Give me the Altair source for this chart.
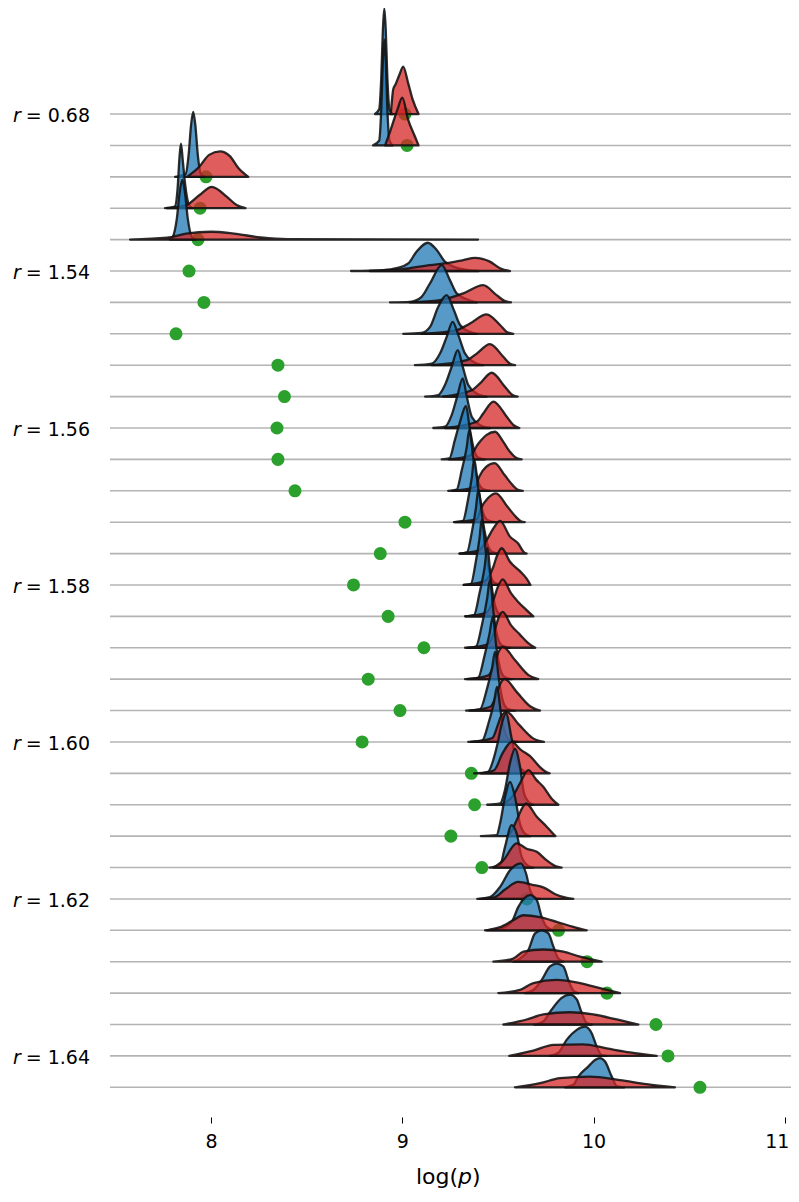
import altair as alt
import pandas as pd

# ---------------- data ----------------
n_rows = 32
label_rows = [0, 5, 10, 15, 20, 25, 30]
label_text = ["0.68", "1.54", "1.56", "1.58", "1.60", "1.62", "1.64"]
x_ticks = [8, 9, 10, 11]

dot_x = [9.014, 9.025, 7.974, 7.943, 7.932, 7.885, 7.963, 7.817, 8.350, 8.384,
         8.345, 8.350, 8.439, 9.014, 8.885, 8.745, 8.926, 9.113, 8.822, 8.988,
         8.790, 9.361, 9.378, 9.254, 9.416, 9.651, 9.817, 9.966, 10.07, 10.326,
         10.389, 10.556]

blue_x = [
    [8.857, 8.879, 8.89, 8.8986, 8.906, 8.9134, 8.922, 8.933, 8.95],
    [8.847, 8.879, 8.89, 8.8986, 8.906, 8.9134, 8.922, 8.933, 8.95],
    [7.812, 7.867, 7.883, 7.896, 7.907, 7.918, 7.931, 7.947, 7.97],
    [7.76, 7.81, 7.825, 7.835, 7.843, 7.852, 7.865, 7.885, 7.905],
    [7.785, 7.80, 7.821, 7.837, 7.85, 7.863, 7.879, 7.90, 7.92],
    [8.732, 8.90, 8.971, 9.031, 9.075, 9.133, 9.18, 9.223, 9.267, 9.354, 9.40],
    [8.936, 9.04, 9.101, 9.145, 9.206, 9.249, 9.284, 9.337, 9.389],
    [9.005, 9.101, 9.145, 9.188, 9.232, 9.27, 9.302, 9.354, 9.389],
    [9.066, 9.154, 9.197, 9.232, 9.263, 9.293, 9.328, 9.371, 9.423],
    [9.119, 9.188, 9.223, 9.258, 9.29, 9.316, 9.345, 9.389, 9.441],
    [9.162, 9.223, 9.258, 9.287, 9.316, 9.337, 9.363, 9.406, 9.458],
    [9.206, 9.246, 9.275, 9.302, 9.333, 9.354, 9.375, 9.397, 9.432],
    [9.24, 9.284, 9.311, 9.337, 9.35, 9.372, 9.396, 9.422, 9.458],
    [9.275, 9.317, 9.343, 9.364, 9.375, 9.399, 9.422, 9.448, 9.485],
    [9.298, 9.338, 9.364, 9.385, 9.397, 9.422, 9.445, 9.469, 9.505],
    [9.323, 9.359, 9.383, 9.404, 9.415, 9.438, 9.461, 9.485, 9.521],
    [9.328, 9.375, 9.404, 9.43, 9.444, 9.466, 9.487, 9.511, 9.548],
    [9.328, 9.385, 9.417, 9.443, 9.458, 9.479, 9.50, 9.524, 9.563],
    [9.328, 9.396, 9.43, 9.456, 9.473, 9.492, 9.513, 9.537, 9.573],
    [9.333, 9.406, 9.443, 9.469, 9.485, 9.506, 9.526, 9.55, 9.589],
    [9.345, 9.417, 9.453, 9.479, 9.495, 9.516, 9.537, 9.563, 9.605],
    [9.375, 9.448, 9.479, 9.498, 9.521, 9.542, 9.572, 9.605, 9.641, 9.678],
    [9.444, 9.511, 9.537, 9.563, 9.589, 9.615, 9.636, 9.659, 9.685],
    [9.411, 9.493, 9.511, 9.537, 9.563, 9.589, 9.615, 9.641, 9.668],
    [9.455, 9.511, 9.537, 9.572, 9.598, 9.624, 9.659, 9.685],
    [9.392, 9.458, 9.511, 9.563, 9.619, 9.647, 9.668, 9.694, 9.72],
    [9.432, 9.50, 9.572, 9.606, 9.668, 9.703, 9.729, 9.755, 9.789],
    [9.58, 9.615, 9.659, 9.694, 9.729, 9.764, 9.79, 9.816, 9.842],
    [9.64, 9.685, 9.729, 9.772, 9.807, 9.842, 9.868, 9.894, 9.92],
    [9.69, 9.737, 9.781, 9.833, 9.877, 9.912, 9.938, 9.964, 9.99],
    [9.77, 9.816, 9.859, 9.912, 9.955, 9.99, 10.016, 10.042, 10.068],
    [9.85, 9.894, 9.92, 9.972, 10.007, 10.033, 10.06, 10.095, 10.121, 10.16],
]
blue_h = [
    [0, 0.15, 1.15, 2.7, 3.37, 2.7, 1.15, 0.15, 0],
    [0, 0.15, 1.15, 2.7, 3.37, 2.7, 1.15, 0.15, 0],
    [0, 0.09, 0.7, 1.66, 2.07, 1.66, 0.7, 0.09, 0],
    [0, 0.05, 0.6, 1.6, 2.06, 1.55, 0.75, 0.1, 0],
    [0, 0.08, 0.65, 1.53, 1.91, 1.53, 0.65, 0.08, 0],
    [0, 0.03, 0.09, 0.24, 0.62, 0.90, 0.67, 0.30, 0.14, 0.02, 0],
    [0, 0.02, 0.18, 0.61, 1.19, 0.71, 0.29, 0.10, 0],
    [0, 0.03, 0.22, 0.86, 1.23, 0.75, 0.28, 0.06, 0],
    [0, 0.05, 0.37, 0.90, 1.38, 0.96, 0.37, 0.11, 0],
    [0, 0.05, 0.37, 0.95, 1.48, 0.95, 0.37, 0.10, 0],
    [0, 0.04, 0.41, 1.0, 1.58, 1.0, 0.36, 0.1, 0],
    [0, 0.03, 0.62, 1.2, 1.70, 0.93, 0.30, 0.06, 0],
    [0, 0.04, 0.66, 1.40, 1.93, 1.0, 0.3, 0.06, 0],
    [0, 0.04, 0.7, 1.45, 1.98, 1.0, 0.3, 0.06, 0],
    [0, 0.04, 0.7, 1.45, 2.02, 1.0, 0.3, 0.06, 0],
    [0, 0.04, 0.7, 1.5, 2.07, 1.0, 0.3, 0.06, 0],
    [0, 0.04, 0.75, 1.55, 2.17, 1.0, 0.3, 0.06, 0],
    [0, 0.04, 0.75, 1.55, 2.15, 1.0, 0.3, 0.06, 0],
    [0, 0.04, 0.75, 1.45, 1.98, 1.0, 0.3, 0.06, 0],
    [0, 0.04, 0.7, 1.35, 1.87, 0.95, 0.3, 0.06, 0],
    [0, 0.04, 0.65, 1.25, 1.75, 0.9, 0.3, 0.06, 0],
    [0, 0.05, 0.5, 0.95, 1.6, 1.91, 1.1, 0.25, 0.05, 0],
    [0, 0.04, 0.48, 1.33, 1.78, 1.23, 0.37, 0.1, 0],
    [0, 0.03, 0.40, 1.25, 1.73, 1.25, 0.40, 0.08, 0],
    [0, 0.07, 0.66, 1.35, 1.08, 0.34, 0.05, 0],
    [0, 0.06, 0.38, 0.91, 1.13, 0.81, 0.28, 0.04, 0],
    [0, 0.03, 0.27, 0.74, 1.12, 0.96, 0.42, 0.11, 0],
    [0, 0.1, 0.37, 0.9, 1.0, 0.9, 0.48, 0.1, 0],
    [0, 0.1, 0.42, 0.85, 0.94, 0.85, 0.42, 0.08, 0],
    [0, 0.1, 0.48, 0.85, 0.95, 0.8, 0.37, 0.05, 0],
    [0, 0.1, 0.51, 0.83, 0.93, 0.72, 0.3, 0.03, 0],
    [0, 0.08, 0.34, 0.66, 0.87, 0.93, 0.82, 0.34, 0.04, 0],
]

red_x = [
    [8.94, 8.953, 8.965, 8.985, 9.005, 9.03, 9.055, 9.085],
    [8.91, 8.937, 8.975, 9.0, 9.03, 9.065, 9.085],
    [7.875, 7.94, 7.99, 8.047, 8.10, 8.143, 8.195],
    [7.77, 7.87, 7.94, 8.004, 8.082, 8.134, 8.18],
    [7.577, 7.77, 7.87, 8.0, 8.12, 8.26, 8.40, 9.396],
    [8.83, 9.0, 9.145, 9.232, 9.319, 9.38, 9.458, 9.511, 9.563],
    [9.04, 9.197, 9.319, 9.423, 9.493, 9.537, 9.568],
    [9.101, 9.284, 9.354, 9.441, 9.511, 9.546, 9.58],
    [9.154, 9.337, 9.389, 9.458, 9.528, 9.563, 9.589],
    [9.213, 9.363, 9.406, 9.467, 9.537, 9.572, 9.603],
    [9.223, 9.389, 9.424, 9.476, 9.546, 9.58, 9.612],
    [9.244, 9.354, 9.397, 9.441, 9.485, 9.528, 9.563, 9.598, 9.624],
    [9.26, 9.38, 9.402, 9.438, 9.483, 9.535, 9.577, 9.605, 9.63],
    [9.27, 9.39, 9.411, 9.447, 9.49, 9.55, 9.594, 9.62, 9.64],
    [9.30, 9.40, 9.441, 9.476, 9.511, 9.563, 9.606, 9.635, 9.65],
    [9.32, 9.43, 9.476, 9.493, 9.52, 9.563, 9.615, 9.65, 9.67],
    [9.33, 9.44, 9.48, 9.497, 9.525, 9.568, 9.606, 9.65, 9.685],
    [9.34, 9.45, 9.485, 9.50, 9.525, 9.568, 9.615, 9.66, 9.695],
    [9.34, 9.45, 9.485, 9.50, 9.525, 9.59, 9.66, 9.71],
    [9.35, 9.46, 9.495, 9.51, 9.535, 9.60, 9.67, 9.72],
    [9.36, 9.47, 9.50, 9.515, 9.545, 9.61, 9.68, 9.74],
    [9.41, 9.48, 9.525, 9.572, 9.62, 9.668, 9.72, 9.75, 9.77],
    [9.52, 9.58, 9.615, 9.659, 9.70, 9.737, 9.78, 9.816],
    [9.55, 9.575, 9.598, 9.647, 9.703, 9.755, 9.80],
    [9.476, 9.528, 9.598, 9.65, 9.703, 9.755, 9.80, 9.833],
    [9.406, 9.48, 9.537, 9.606, 9.68, 9.74, 9.80, 9.86, 9.894],
    [9.441, 9.511, 9.58, 9.633, 9.72, 9.807, 9.894, 9.964],
    [9.476, 9.58, 9.633, 9.737, 9.842, 9.929, 10.042],
    [9.502, 9.615, 9.685, 9.807, 9.929, 10.033, 10.138],
    [9.528, 9.65, 9.737, 9.877, 9.998, 10.121, 10.234],
    [9.559, 9.685, 9.79, 9.946, 10.068, 10.19, 10.33],
    [9.589, 9.72, 9.824, 9.981, 10.138, 10.277, 10.425],
]
red_h = [
    [0, 0.8, 0.95, 1.25, 1.51, 1.0, 0.45, 0],
    [0, 0.46, 1.15, 1.52, 0.83, 0.3, 0],
    [0, 0.33, 0.70, 0.81, 0.65, 0.28, 0],
    [0, 0.1, 0.42, 0.68, 0.37, 0.1, 0],
    [0, 0.06, 0.19, 0.25, 0.19, 0.07, 0.015, 0],
    [0, 0.06, 0.19, 0.25, 0.35, 0.42, 0.30, 0.09, 0],
    [0, 0.07, 0.29, 0.55, 0.23, 0.04, 0],
    [0, 0.12, 0.33, 0.62, 0.28, 0.06, 0],
    [0, 0.16, 0.37, 0.67, 0.27, 0.05, 0],
    [0, 0.2, 0.42, 0.76, 0.31, 0.07, 0],
    [0, 0.2, 0.47, 0.84, 0.36, 0.1, 0],
    [0, 0.12, 0.5, 0.78, 0.88, 0.56, 0.24, 0.04, 0],
    [0, 0.12, 0.45, 0.76, 0.88, 0.50, 0.18, 0.03, 0],
    [0, 0.1, 0.44, 0.76, 0.92, 0.49, 0.17, 0.03, 0],
    [0, 0.1, 0.43, 0.8, 1.04, 0.54, 0.32, 0.05, 0],
    [0, 0.12, 0.58, 0.9, 1.17, 0.74, 0.44, 0.2, 0],
    [0, 0.12, 0.58, 0.9, 1.18, 0.74, 0.46, 0.2, 0],
    [0, 0.12, 0.6, 0.9, 1.14, 0.72, 0.42, 0.14, 0],
    [0, 0.12, 0.55, 0.82, 1.03, 0.6, 0.13, 0],
    [0, 0.12, 0.55, 0.82, 1.0, 0.58, 0.13, 0],
    [0, 0.12, 0.55, 0.8, 0.96, 0.55, 0.13, 0],
    [0, 0.1, 0.65, 1.0, 0.75, 0.55, 0.2, 0.05, 0],
    [0, 0.3, 0.68, 1.10, 0.8, 0.57, 0.2, 0],
    [0, 0.2, 0.51, 1.04, 0.62, 0.3, 0],
    [0, 0.23, 0.77, 0.6, 0.5, 0.23, 0.05, 0],
    [0, 0.05, 0.3, 0.54, 0.45, 0.36, 0.15, 0.03, 0],
    [0, 0.1, 0.32, 0.48, 0.42, 0.27, 0.11, 0],
    [0, 0.1, 0.32, 0.39, 0.32, 0.16, 0],
    [0, 0.1, 0.32, 0.42, 0.32, 0.16, 0],
    [0, 0.16, 0.32, 0.39, 0.32, 0.16, 0],
    [0, 0.17, 0.35, 0.37, 0.24, 0.11, 0],
    [0, 0.13, 0.29, 0.34, 0.23, 0.1, 0],
]

# ---------------- build tables ----------------
curve_recs = []
keys = []
for i in range(n_rows):
    base = n_rows - 1 - i
    for kind, xs, hs in (("a", blue_x[i], blue_h[i]), ("b", red_x[i], red_h[i])):
        k = f"{i:02d}{kind}"
        keys.append((k, kind))
        for xv, hv in zip(xs, hs):
            curve_recs.append({"key": k, "x": xv, "top": base + hv, "base": base})
curves = pd.DataFrame(curve_recs)

rows_df = pd.DataFrame({"base": [n_rows - 1 - i for i in range(n_rows)],
                        "dx": dot_x})
labels_df = pd.DataFrame({"base": [n_rows - 1 - r for r in label_rows],
                          "txt": ["= " + t for t in label_text]})

W, H = 681, 1091
FONT = "DejaVu Sans"
COLORS = {"a": "#1f77b4", "b": "#d62728"}
xscale = alt.Scale(domain=[7.472, 11.032], nice=False, zero=False)
yscale = alt.Scale(domain=[-0.5, 34.25], nice=False, zero=False)

xaxis = alt.Axis(values=x_ticks, format="d", domain=False, grid=False,
                 tickSize=6, tickColor="black", tickWidth=1, offset=14,
                 labelFontSize=19, labelFont=FONT, labelColor="black",
                 labelPadding=9, title=None,
                 labelOffset={"condition": {"test": "datum.value == 11", "value": -8},
                              "value": 0})

rules = alt.Chart(rows_df).mark_rule(color="#b4b4b4", strokeWidth=1.6).encode(
    y=alt.Y("base:Q", scale=yscale, axis=None),
    x=alt.value(0), x2=alt.value(W))

dots = alt.Chart(rows_df).mark_circle(size=170, color="#2ca02c", opacity=1).encode(
    x=alt.X("dx:Q", scale=xscale, axis=xaxis),
    y=alt.Y("base:Q", scale=yscale, axis=None))

# one layer per curve so that the drawing order is row by row, blue then red
area_layers = []
for k, kind in keys:
    area_layers.append(
        alt.Chart(curves).transform_filter(alt.datum.key == k).mark_area(
            interpolate="monotone", stroke="#111111", strokeWidth=2.3,
            strokeOpacity=0.88, fill=COLORS[kind], fillOpacity=0.75,
            strokeJoin="round").encode(
            x=alt.X("x:Q", scale=xscale, axis=xaxis),
            y=alt.Y("top:Q", scale=yscale, axis=None, stack=None),
            y2="base:Q"))

lab_r = alt.Chart(labels_df).mark_text(
    text="r", fontStyle="italic", font=FONT, fontSize=19, align="left",
    baseline="alphabetic", dy=8, color="black").encode(
    x=alt.value(-97), y=alt.Y("base:Q", scale=yscale, axis=None))

lab_v = alt.Chart(labels_df).mark_text(
    font=FONT, fontSize=19, align="right", baseline="alphabetic", dy=8,
    color="black").encode(
    x=alt.value(-20), y=alt.Y("base:Q", scale=yscale, axis=None), text="txt:N")

one = pd.DataFrame({"a": [0]})
TY = 1172
t1 = alt.Chart(one).mark_text(text="log(", font=FONT, fontSize=22, align="right",
                              baseline="alphabetic", color="black").encode(
    x=alt.value(348), y=alt.value(TY))
t2 = alt.Chart(one).mark_text(text="p", font=FONT, fontSize=22, fontStyle="italic",
                              align="left", baseline="alphabetic", color="black").encode(
    x=alt.value(348), y=alt.value(TY))
t3 = alt.Chart(one).mark_text(text=")", font=FONT, fontSize=22, align="left",
                              baseline="alphabetic", color="black").encode(
    x=alt.value(362), y=alt.value(TY))

chart = alt.layer(rules, dots, *area_layers, lab_r, lab_v, t1, t2, t3).properties(
    width=W, height=H,
    padding={"left": 102, "top": 4, "right": 0, "bottom": 86},
    autosize=alt.AutoSizeParams(type="none"),
).configure_view(stroke=None)

chart.save("out.html", embed_options={"renderer": "svg", "actions": False})
